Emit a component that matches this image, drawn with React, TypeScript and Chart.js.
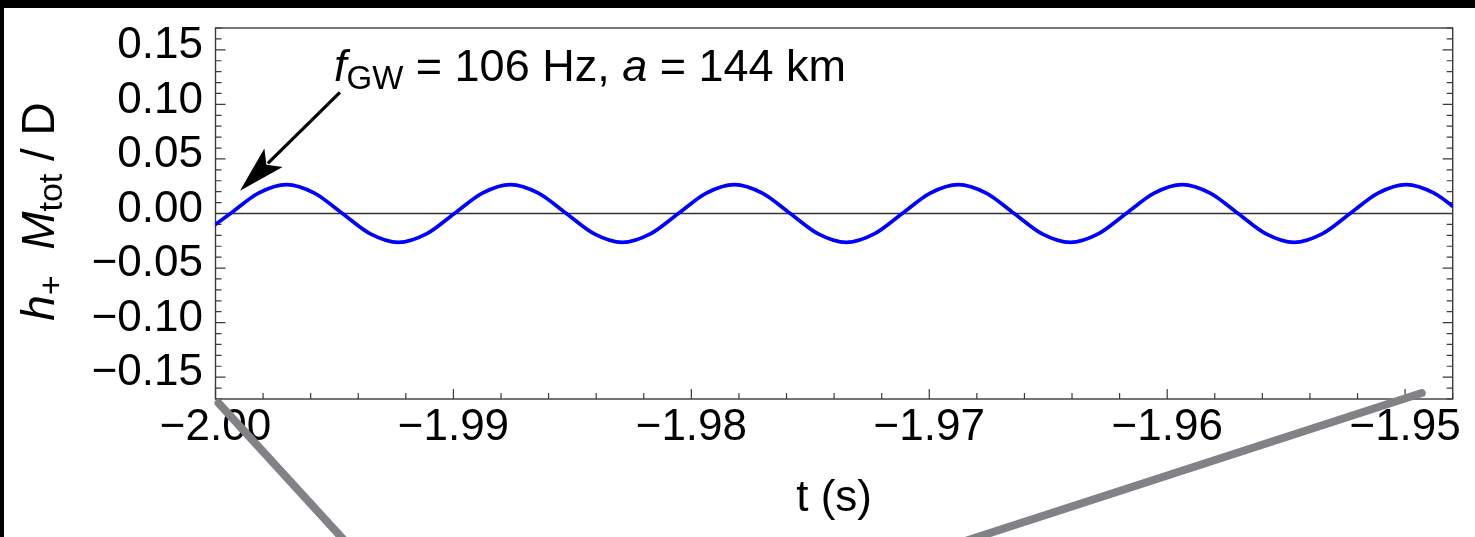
import React, { useEffect, useRef } from "react";
import { Chart, registerables } from "chart.js";

Chart.register(...registerables);

// ---- data ----
const timeS = [
  -2.000546, -1.99937, -1.998194, -1.997017, -1.995841, -1.994664, -1.993488, -1.992311, -1.991135,
  -1.989959, -1.988782, -1.987606, -1.986429, -1.985253, -1.984076, -1.9829, -1.981724,
  -1.980547, -1.979371, -1.978194, -1.977018, -1.975842, -1.974665, -1.973489, -1.972312,
  -1.971136, -1.969959, -1.968783, -1.967607, -1.96643, -1.965254, -1.964077, -1.962901,
  -1.961725, -1.960548, -1.959372, -1.958195, -1.957019, -1.955842, -1.954666, -1.95349,
  -1.952313, -1.951137, -1.94996, -1.948784, -1.947607,
];
const strainH = [
  -0.0187,
  0, 0.0187, 0.0265, 0.0187, 0, -0.0187, -0.0265, -0.0187,
  0, 0.0187, 0.0265, 0.0187, 0, -0.0187, -0.0265, -0.0187,
  0, 0.0187, 0.0265, 0.0187, 0, -0.0187, -0.0265, -0.0187,
  0, 0.0187, 0.0265, 0.0187, 0, -0.0187, -0.0265, -0.0187,
  0, 0.0187, 0.0265, 0.0187, 0, -0.0187, -0.0265, -0.0187,
  0, 0.0187, 0.0265, 0.0187, 0,
];

const xTickValues = [-2.0, -1.99, -1.98, -1.97, -1.96, -1.95];
const xTickLabels = ["\u22122.00", "\u22121.99", "\u22121.98", "\u22121.97", "\u22121.96", "\u22121.95"];
const yTickValues = [-0.15, -0.1, -0.05, 0, 0.05, 0.1, 0.15];
const yTickLabels = ["\u22120.15", "\u22120.10", "\u22120.05", "0.00", "0.05", "0.10", "0.15"];
const xRange = [-2.0, -1.948];
const yRange = [-0.17, 0.17];

const xTitle = "t (s)";
const yTitleParts = [
  { text: "h", italic: true, sub: false },
  { text: "+", italic: false, sub: true },
  { text: "  ", italic: false, sub: false },
  { text: "M", italic: true, sub: false },
  { text: "tot", italic: false, sub: true },
  { text: " / D", italic: false, sub: false },
];
const noteParts = [
  { text: "f", italic: true, sub: false },
  { text: "GW", italic: false, sub: true },
  { text: " = 106 Hz, ", italic: false, sub: false },
  { text: "a", italic: true, sub: false },
  { text: " = 144 km", italic: false, sub: false },
];
// annotation anchors in data coordinates
const noteAnchor = { t: -1.99502, h: 0.121 };
const arrowTail = { t: -1.99477, h: 0.111 };
const arrowTip = { t: -1.99897, h: 0.0209 };

const FONT = '"Liberation Sans", Arial, Helvetica, sans-serif';
const FS = 44;

function drawRich(ctx: CanvasRenderingContext2D, parts: any[], x: number, y: number, fs: number, measureOnly = false) {
  let cx = x;
  const sub = Math.round(fs * 0.74);
  for (const p of parts) {
    const size = p.sub ? sub : fs;
    ctx.font = `${p.italic ? "italic " : ""}${size}px ${FONT}`;
    if (!measureOnly) ctx.fillText(p.text, cx, y + (p.sub ? fs * 0.17 : 0));
    cx += ctx.measureText(p.text).width;
  }
  return cx - x;
}

const decorPlugin = {
  id: "decor",
  beforeDatasetsDraw(chart: any) {
    const { ctx, chartArea: a, scales } = chart;
    const xs = scales.x;
    const ys = scales.y;
    ctx.save();
    // zero line
    const y0 = ys.getPixelForValue(0);
    ctx.strokeStyle = "#333";
    ctx.lineWidth = 1.3;
    ctx.beginPath();
    ctx.moveTo(a.left, y0);
    ctx.lineTo(a.right, y0);
    ctx.stroke();
    // frame
    ctx.strokeStyle = "#3a3a3a";
    ctx.lineWidth = 1.4;
    ctx.strokeRect(a.left, a.top, a.right - a.left, a.bottom - a.top);
    // y ticks (left and right)
    ctx.lineWidth = 1.2;
    ctx.beginPath();
    for (let i = -17; i <= 17; i++) {
      const py = ys.getPixelForValue(i / 100);
      const len = i % 5 === 0 ? 10 : 6;
      ctx.moveTo(a.left, py);
      ctx.lineTo(a.left + len, py);
      ctx.moveTo(a.right, py);
      ctx.lineTo(a.right - len, py);
    }
    // x ticks (bottom)
    for (let i = 0; i <= 26; i++) {
      const px = xs.getPixelForValue(-2 + i * 0.002);
      const len = i % 5 === 0 ? 10 : 6;
      ctx.moveTo(px, a.bottom);
      ctx.lineTo(px, a.bottom - len);
    }
    ctx.stroke();
    ctx.restore();
  },
  afterDraw(chart: any) {
    const { ctx, chartArea: a, scales } = chart;
    const xs = scales.x;
    const ys = scales.y;
    ctx.save();
    ctx.fillStyle = "#000";
    ctx.textBaseline = "alphabetic";
    ctx.textAlign = "left";
    // y title (rotated)
    const w = drawRich(ctx, yTitleParts, 0, 0, 46, true);
    ctx.save();
    ctx.translate(50, (a.top + a.bottom) / 2 - 2);
    ctx.rotate(-Math.PI / 2);
    drawRich(ctx, yTitleParts, -w / 2, 0, 46);
    ctx.restore();
    // x title
    ctx.font = `${FS}px ${FONT}`;
    ctx.textAlign = "center";
    ctx.fillText(xTitle, (a.left + a.right) / 2, 502.7);
    ctx.textAlign = "left";
    // annotation text
    drawRich(ctx, noteParts, xs.getPixelForValue(noteAnchor.t), ys.getPixelForValue(noteAnchor.h), 45);
    // arrow
    const tx = xs.getPixelForValue(arrowTail.t), ty = ys.getPixelForValue(arrowTail.h);
    const hx = xs.getPixelForValue(arrowTip.t), hy = ys.getPixelForValue(arrowTip.h);
    const ang = Math.atan2(hy - ty, hx - tx);
    const headLen = 47, headHalf = 13;
    const bx = hx - headLen * Math.cos(ang), by = hy - headLen * Math.sin(ang);
    ctx.strokeStyle = "#000";
    ctx.lineWidth = 3.2;
    ctx.beginPath();
    ctx.moveTo(tx, ty);
    ctx.lineTo(bx + 8 * Math.cos(ang), by + 8 * Math.sin(ang));
    ctx.stroke();
    ctx.beginPath();
    ctx.moveTo(hx, hy);
    ctx.lineTo(bx - headHalf * Math.sin(ang), by + headHalf * Math.cos(ang));
    ctx.lineTo(bx + 10 * Math.cos(ang), by + 10 * Math.sin(ang));
    ctx.lineTo(bx + headHalf * Math.sin(ang), by - headHalf * Math.cos(ang));
    ctx.closePath();
    ctx.fill();
    // gray pen strokes across the picture
    ctx.strokeStyle = "rgb(128,130,134)";
    ctx.lineCap = "round";
    ctx.lineWidth = 8;
    ctx.beginPath();
    ctx.moveTo(a.left + 3, a.bottom + 4);
    ctx.lineTo(a.left + 133, a.bottom + 146);
    ctx.stroke();
    ctx.beginPath();
    ctx.moveTo(xs.getPixelForValue(-1.9493), a.bottom - 6);
    ctx.lineTo(xs.getPixelForValue(-1.9690), a.bottom + 146);
    ctx.stroke();
    ctx.restore();
  },
};

export default function App() {
  const ref = useRef<HTMLCanvasElement>(null);
  useEffect(() => {
    if (!ref.current) return;
    const chart = new Chart(ref.current, {
      type: "line",
      data: {
        datasets: [
          {
            data: timeS.map((t, i) => ({ x: t, y: strainH[i] })),
            borderColor: "#0000ff",
            borderWidth: 3.6,
            pointRadius: 0,
            cubicInterpolationMode: "monotone",
            tension: 0.4,
            fill: false,
          },
        ],
      },
      options: {
        animation: false,
        responsive: false,
        devicePixelRatio: 1,
        events: [],
        layout: { padding: { top: 20, right: 22.3, left: 0, bottom: 0 } },
        plugins: { legend: { display: false }, tooltip: { enabled: false }, title: { display: false } },
        scales: {
          x: {
            type: "linear",
            min: xRange[0],
            max: xRange[1],
            grid: { display: false, drawTicks: false, tickLength: 0 },
            border: { display: false },
            afterBuildTicks: (s: any) => {
              s.ticks = xTickValues.map((v) => ({ value: v }));
            },
            afterFit: (s: any) => {
              s.height = 138;
              s.paddingLeft = 0;
              s.paddingRight = 0;
            },
            ticks: {
              autoSkip: false,
              maxRotation: 0,
              minRotation: 0,
              padding: 2,
              color: "#000",
              font: { family: FONT, size: FS },
              callback: (_v: any, i: number) => xTickLabels[i],
            },
          },
          y: {
            type: "linear",
            min: yRange[0],
            max: yRange[1],
            grid: { display: false, drawTicks: false, tickLength: 0 },
            border: { display: false },
            afterBuildTicks: (s: any) => {
              s.ticks = yTickValues.map((v) => ({ value: v }));
            },
            afterFit: (s: any) => {
              s.width = 211.5;
              s.paddingTop = 0;
              s.paddingBottom = 0;
            },
            ticks: {
              autoSkip: false,
              padding: 12.5,
              labelOffset: -4,
              color: "#000",
              font: { family: FONT, size: FS },
              callback: (_v: any, i: number) => yTickLabels[i],
            },
          },
        },
      },
      plugins: [decorPlugin],
    });
    return () => chart.destroy();
  }, []);
  return (
    <div style={{ position: "fixed", left: 0, top: 0, width: 1475, height: 537, background: "#000", overflow: "hidden" }}>
      <div style={{ position: "absolute", left: 4, top: 8, width: 1471, height: 529, background: "#fff" }}>
        <canvas ref={ref} width={1471} height={529} style={{ display: "block" }} />
      </div>
    </div>
  );
}
